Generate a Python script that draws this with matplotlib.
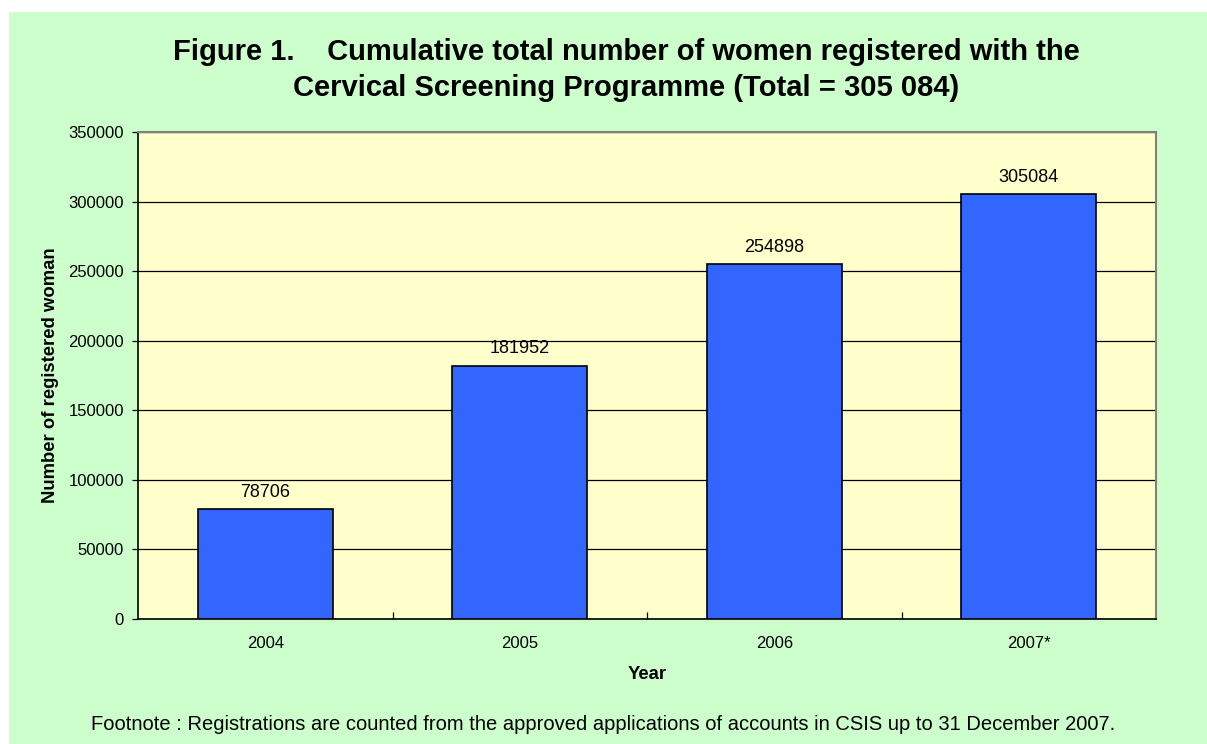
import numpy as np
import matplotlib
matplotlib.use("Agg")
import matplotlib.pyplot as plt
from matplotlib.patches import Rectangle

plt.rcParams["font.family"] = ["Liberation Sans", "DejaVu Sans"]

# data
years = ["2004", "2005", "2006", "2007*"]
registered = [78706, 181952, 254898, 305084]
y_ticks = [0, 50000, 100000, 150000, 200000, 250000, 300000, 350000]

title = ("Figure 1.    Cumulative total number of women registered with the\n"
         "Cervical Screening Programme (Total = 305 084)")
footnote = ("Footnote : Registrations are counted from the approved applications "
            "of accounts in CSIS up to 31 December 2007.")

W, H = 1207, 744
fig = plt.figure(figsize=(W / 100, H / 100), dpi=100, facecolor="white")

# light green chart area (white strip on top/left like the original)
fig.patches.append(Rectangle((9 / W, 0), 1 - 9 / W, 1 - 12 / H,
                             transform=fig.transFigure, facecolor="#CCFFCC",
                             edgecolor="none", zorder=-5))

ax = fig.add_axes([138 / W, 125 / H, (1156 - 138) / W, (619 - 132) / H])
ax.set_facecolor("#FFFFCC")

x = np.arange(len(years))
bars = ax.bar(x, registered, width=0.53, color="#3366FF", edgecolor="black",
              linewidth=1.2, zorder=3)

for xi, v in zip(x, registered):
    ax.annotate(str(v), (xi, v), xytext=(0, 6), textcoords="offset points",
                ha="center", va="bottom", fontsize=13, color="black")

ax.set_xlim(-0.5, len(years) - 0.5)
ax.set_ylim(0, 350000)
ax.set_yticks(y_ticks)
ax.set_yticklabels([str(t) for t in y_ticks], fontsize=12)
ax.yaxis.grid(True, color="black", linewidth=0.9, zorder=1)
ax.set_axisbelow(True)
ax.tick_params(axis="y", direction="out", length=4, width=0.9, pad=6)

ax.set_xticks(x)
ax.set_xticklabels(years, fontsize=12)
ax.set_xticks(np.arange(0.5, len(years) - 1), minor=True)
ax.tick_params(axis="x", which="major", length=0, pad=12)
ax.tick_params(axis="x", which="minor", direction="in", length=5, width=0.9)

for side in ["left", "bottom"]:
    ax.spines[side].set_color("black")
    ax.spines[side].set_linewidth(1.2)
for side in ["top", "right"]:
    ax.spines[side].set_color("#808080")
    ax.spines[side].set_linewidth(1.5)

ax.set_xlabel("Year", fontsize=13.3, fontweight="bold", labelpad=11)
ax.set_ylabel("Number of registered woman", fontsize=13.3, fontweight="bold",
              labelpad=7)

fig.text(626 / W, 1 - 70 / H, title, ha="center", va="center", fontsize=21,
         fontweight="bold", linespacing=1.38)
fig.text(603 / W, 1 - 725 / H, footnote, ha="center", va="center",
         fontsize=14.5)

fig.savefig("out.png", dpi=100, facecolor=fig.get_facecolor())
